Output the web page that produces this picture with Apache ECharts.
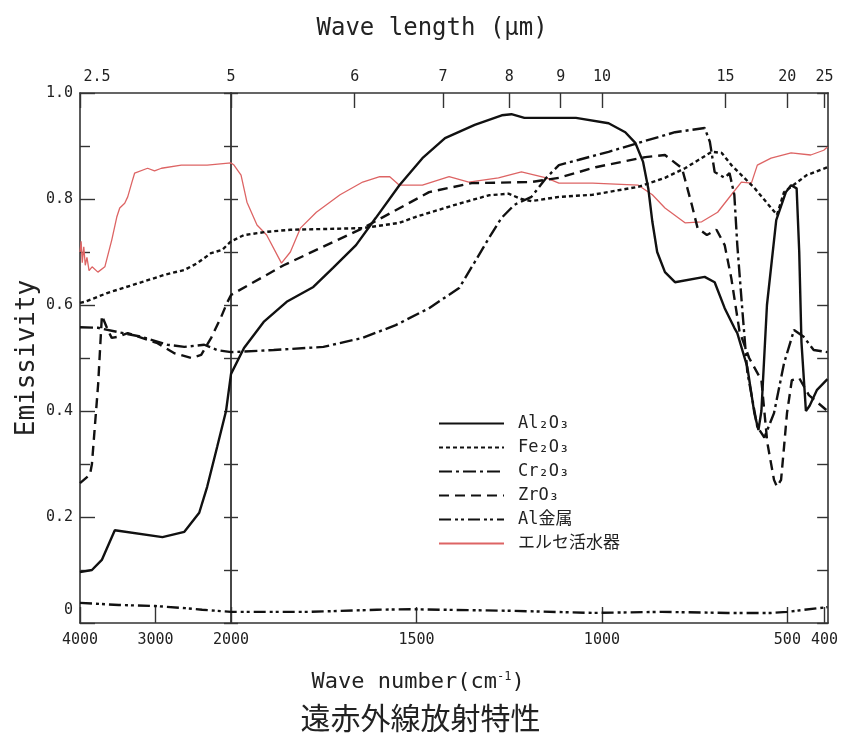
<!DOCTYPE html>
<html><head><meta charset="utf-8">
<script src="https://cdn.jsdelivr.net/npm/echarts@6/dist/echarts.min.js"></script>
<style>html,body{margin:0;padding:0;background:#fff}#c{width:841px;height:740px}</style>
</head><body><div id="c"></div>
<script>
// ---- data: [wave number (cm-1), emissivity] ----
const al2o3 = [[4000,0.096],[3842,0.10],[3711,0.119],[3539,0.175],[2908,0.162],[2618,0.172],[2421,0.208],[2316,0.257],[2184,0.332],[2066,0.40],[2000,0.47],[1965,0.519],[1912,0.568],[1850,0.606],[1778,0.634],[1725,0.67],[1663,0.713],[1610,0.764],[1546,0.826],[1484,0.877],[1423,0.915],[1343,0.94],[1270,0.958],[1244,0.96],[1209,0.953],[1070,0.953],[982,0.943],[937,0.926],[910,0.906],[889,0.87],[875,0.82],[864,0.757],[851,0.70],[830,0.662],[803,0.643],[723,0.653],[696,0.643],[669,0.594],[643,0.557],[635,0.547],[608,0.483],[589,0.396],[578,0.364],[570,0.40],[555,0.60],[530,0.76],[504,0.813],[490,0.826],[475,0.82],[468,0.70],[462,0.53],[450,0.40],[440,0.41],[420,0.44],[392,0.46]];
const fe2o3 = [[4000,0.604],[3934,0.606],[3632,0.623],[3184,0.643],[2882,0.657],[2618,0.666],[2447,0.679],[2263,0.698],[2118,0.704],[2000,0.72],[1965,0.732],[1904,0.738],[1840,0.742],[1645,0.745],[1546,0.755],[1503,0.766],[1396,0.789],[1305,0.807],[1252,0.81],[1217,0.80],[1190,0.796],[1116,0.804],[1025,0.808],[902,0.823],[830,0.84],[776,0.858],[704,0.889],[677,0.887],[651,0.864],[589,0.821],[528,0.77],[509,0.813],[448,0.845],[392,0.86]];
const cr2o3 = [[4000,0.558],[3763,0.557],[3500,0.549],[3184,0.54],[2842,0.525],[2618,0.521],[2355,0.525],[2184,0.515],[2000,0.511],[1885,0.515],[1751,0.521],[1645,0.538],[1556,0.562],[1466,0.594],[1385,0.632],[1343,0.681],[1305,0.726],[1271,0.764],[1236,0.789],[1190,0.804],[1150,0.84],[1116,0.864],[1062,0.874],[982,0.889],[891,0.908],[803,0.926],[723,0.934],[709,0.908],[696,0.851],[669,0.84],[656,0.849],[643,0.808],[635,0.713],[621,0.587],[608,0.474],[581,0.37],[562,0.35],[536,0.396],[509,0.49],[482,0.553],[456,0.54],[429,0.515],[392,0.511]];
const zro3 = [[4000,0.264],[3868,0.28],[3842,0.30],[3760,0.45],[3710,0.58],[3632,0.553],[3580,0.538],[3500,0.54],[3368,0.547],[2974,0.528],[2750,0.509],[2526,0.50],[2395,0.506],[2263,0.538],[2132,0.577],[2053,0.604],[2000,0.619],[1858,0.675],[1645,0.745],[1466,0.813],[1351,0.83],[1190,0.832],[1116,0.84],[1017,0.86],[883,0.879],[830,0.883],[784,0.858],[758,0.79],[742,0.745],[717,0.732],[691,0.742],[669,0.713],[651,0.65],[629,0.55],[603,0.50],[570,0.458],[554,0.34],[536,0.27],[528,0.257],[517,0.27],[509,0.332],[501,0.396],[488,0.458],[468,0.462],[442,0.43],[392,0.40]];
const alMetal = [[4000,0.038],[3487,0.034],[3000,0.032],[2605,0.028],[2382,0.025],[2000,0.021],[1789,0.021],[1607,0.025],[1516,0.026],[1246,0.023],[1022,0.019],[838,0.021],[661,0.019],[544,0.019],[501,0.021],[392,0.03]];
const elseDevice = [[4000,0.70],[3985,0.72],[3970,0.68],[3950,0.71],[3930,0.675],[3908,0.69],[3880,0.665],[3840,0.672],[3763,0.662],[3671,0.672],[3579,0.723],[3513,0.766],[3474,0.783],[3408,0.792],[3368,0.804],[3316,0.83],[3276,0.849],[3105,0.858],[3013,0.853],[2921,0.858],[2658,0.864],[2316,0.864],[2000,0.868],[1992,0.864],[1973,0.845],[1957,0.794],[1930,0.751],[1904,0.732],[1864,0.679],[1840,0.70],[1813,0.745],[1770,0.775],[1706,0.808],[1645,0.832],[1599,0.842],[1572,0.842],[1546,0.826],[1484,0.826],[1412,0.842],[1359,0.832],[1279,0.84],[1217,0.851],[1150,0.84],[1116,0.83],[1025,0.83],[902,0.826],[864,0.808],[830,0.783],[776,0.755],[731,0.757],[688,0.775],[651,0.808],[624,0.832],[597,0.83],[581,0.864],[544,0.877],[490,0.887],[437,0.883],[402,0.892],[392,0.898]];

const seriesNames = ['Al₂O₃','Fe₂O₃','Cr₂O₃','ZrO₃','Al金属','エルセ活水器'];
const bottomTicks = [4000,3000,2000,1500,1000,500,400];   // wave number (cm-1)
const topTicks = [2.5,5,6,7,8,9,10,15,20,25];             // wave length (μm)

// ---- broken x scale: 4000-2000 compressed, 2000-400 linear ----
const BREAK = 2000;
const K = (152/2000)/(601/1610);
function T(w){ return w >= BREAK ? -(w-BREAK)*K : BREAK - w; }
function invT(t){ return t < 0 ? BREAK - t/K : BREAK - t; }
const XMIN = T(4000), XMAX = T(390);

const MONO = "'DejaVu Sans Mono','Noto Sans CJK JP',monospace";
const AX = '#333';
const TXT = '#222';

function mk(name, data, color, width, type, z){
  return {name, type:'line', data: data.map(p=>[T(p[0]), p[1]]), symbol:'none',
    lineStyle:{color, width, type}, itemStyle:{color}, z, animation:false, xAxisIndex:0, yAxisIndex:0};
}

const chart = echarts.init(document.getElementById('c'), null, {renderer:'canvas'});
const yBase = {type:'value', min:0, max:1, splitLine:{show:false}, axisLabel:{show:false}};
chart.setOption({
  backgroundColor:'#fff',
  animation:false,
  title:{text:'遠赤外線放射特性', left:'center', top:698,
    textStyle:{fontFamily:"'Noto Sans CJK JP'", fontSize:30, fontWeight:'normal', color:TXT}},
  grid:{left:80, right:8, top:93, bottom:117, containLabel:false},
  legend:{orient:'vertical', left:438, top:415, padding:0, itemWidth:65, itemHeight:14, itemGap:7,
    data: seriesNames,
    itemStyle:{opacity:0},
    textStyle:{fontFamily:MONO, fontSize:17, color:TXT, padding:[0,0,0,9]}},
  xAxis:[
    {type:'value', position:'bottom', min:XMIN, max:XMAX,
     axisLine:{show:true, onZero:false, lineStyle:{color:AX, width:1.6}},
     axisTick:{show:true, inside:true, length:16, customValues: bottomTicks.map(T), lineStyle:{color:AX, width:1.4}},
     axisLabel:{show:true, customValues: bottomTicks.map(T), margin:10,
       formatter: v => String(Math.round(invT(v))),
       fontFamily:MONO, fontSize:15, color:TXT},
     splitLine:{show:false},
     name:'Wave number(cm{s|-1})', nameLocation:'middle', nameGap:48,
     nameTextStyle:{fontFamily:MONO, fontSize:22, color:TXT, padding:[0,72,0,0],
       rich:{s:{fontFamily:MONO, fontSize:12, color:TXT, verticalAlign:'top', padding:[0,0,10,0]}}}},
    {type:'value', position:'top', min:XMIN, max:XMAX,
     axisLine:{show:true, onZero:false, lineStyle:{color:AX, width:1.6}},
     axisTick:{show:true, inside:true, length:15, customValues: topTicks.map(u=>T(10000/u)), lineStyle:{color:AX, width:1.4}},
     axisLabel:{show:true, customValues: topTicks.map(u=>T(10000/u)), margin:8,
       formatter: v => { const u = String(+(10000/invT(v)).toFixed(1)); return u === '2.5' ? '{s|2.5}' : u; },
       fontFamily:MONO, fontSize:15, color:TXT,
       rich:{s:{fontFamily:MONO, fontSize:15, color:TXT, padding:[0,0,0,34]}}},
     splitLine:{show:false},
     name:'Wave length (μm)', nameLocation:'middle', nameGap:52,
     nameTextStyle:{fontFamily:MONO, fontSize:24, color:TXT, padding:[0,44,0,0]}}
  ],
  yAxis:[
    Object.assign({}, yBase, {position:'left', interval:0.2,
      axisLine:{show:true, onZero:false, lineStyle:{color:AX, width:1.6}},
      axisTick:{show:true, inside:true, length:15, lineStyle:{color:AX, width:1.4}},
      minorTick:{show:true, splitNumber:2, length:10, lineStyle:{color:AX, width:1.4}},
      axisLabel:{show:true, margin:7, fontFamily:MONO, fontSize:15, color:TXT,
        formatter: v => { const k = Math.round(v*10); return k === 0 ? '{z|0}' : (k/10).toFixed(1); },
        rich:{z:{fontFamily:MONO, fontSize:15, color:TXT, padding:[0,0,26,0]}}},
      name:'Emissivity', nameLocation:'middle', nameGap:40, nameMoveOverlap:false,
      nameTextStyle:{fontFamily:MONO, fontSize:26, color:TXT}}),
    Object.assign({}, yBase, {position:'right', interval:0.1,
      axisLine:{show:true, onZero:false, lineStyle:{color:AX, width:1.6}},
      axisTick:{show:true, inside:true, length:11, lineStyle:{color:AX, width:1.4}}}),
    Object.assign({}, yBase, {position:'left', interval:0.1,
      axisLine:{show:true, onZero:true, onZeroAxisIndex:0, lineStyle:{color:AX, width:1.8}},
      axisTick:{show:true, inside:true, length:7, lineStyle:{color:AX, width:1.4}}}),
    Object.assign({}, yBase, {position:'left', interval:0.1,
      axisLine:{show:false, onZero:true, onZeroAxisIndex:0},
      axisTick:{show:true, inside:false, length:7, lineStyle:{color:AX, width:1.4}}})
  ],
  series:[
    mk(seriesNames[0], al2o3, '#111', 2.4, 'solid', 6),
    mk(seriesNames[1], fe2o3, '#111', 2.4, [4,3], 5),
    mk(seriesNames[2], cr2o3, '#111', 2.4, [13,4,3,4], 5),
    mk(seriesNames[3], zro3, '#111', 2.4, [10,6], 5),
    mk(seriesNames[4], alMetal, '#111', 2.4, [12,4,3,3,3,4], 5),
    mk(seriesNames[5], elseDevice, '#dd6464', 1.3, 'solid', 4)
  ]
});
</script></body></html>
